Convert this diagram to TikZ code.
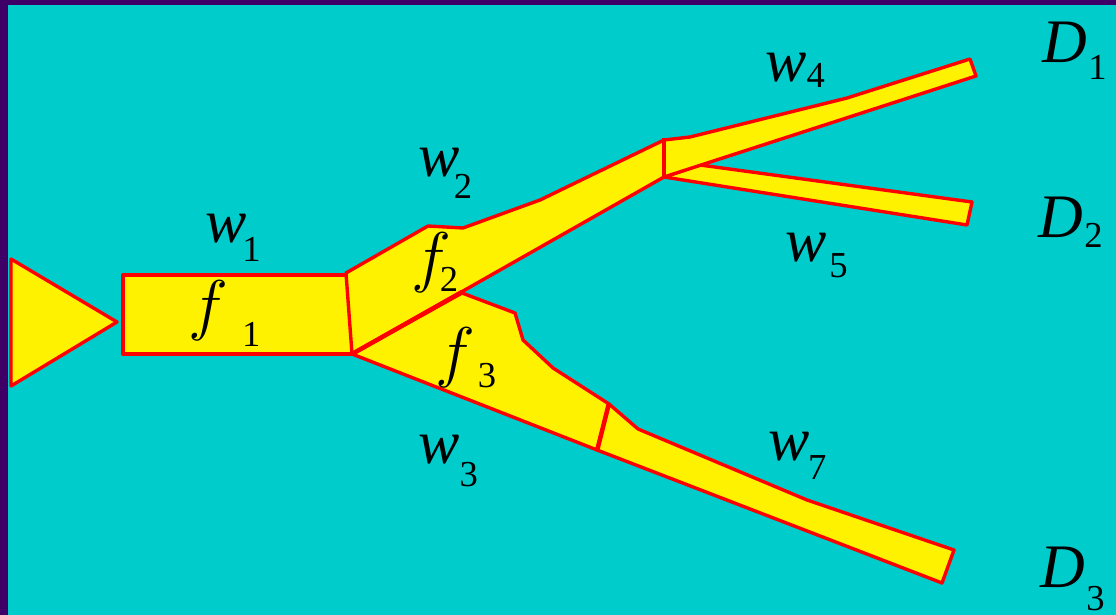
\RequirePackage{fix-cm}
\documentclass[tikz,border=0pt]{standalone}
\usepackage{fontspec}
\setmainfont{Liberation Serif}
\usepackage{xcolor}
\definecolor{bgcyan}{RGB}{0,204,204}
\definecolor{rimpurple}{RGB}{62,0,102}
% letter, index, gap, drop
\newcommand{\lbl}[4]{#1\kern#3\raisebox{-#4}{\fontsize{26}{28}\selectfont #2}}
\newcommand{\flow}{{\fontsize{48}{54}\selectfont$f$}}

\begin{document}
\begin{tikzpicture}[x=0.025cm, y=-0.025cm,
    every node/.style={inner sep=0pt, anchor=base west, font=\fontsize{44}{50}\selectfont},
    strip/.style={fill=yellow, draw=red, line width=2.4pt, line join=round},
    joint/.style={draw=red, line width=3.2pt}]
    % Background with dark rim on the left and top
    \fill[rimpurple] (0,0) rectangle (1116,615);
    \fill[bgcyan] (8,5) rectangle (1116,615);
    \useasboundingbox (0,0) rectangle (1116,615);
    % Source and first pipe
    \draw[strip] (11,259) -- (117,322) -- (11,386) -- cycle;
    \draw[strip] (123,275) rectangle (352,354);
    % Upper branch f2, w2
    \draw[strip] (346,273) -- (428,226) -- (463,228) -- (540,200) -- (664,140) -- (664,177) -- (352,354) -- cycle;
    % Lower branch f3 and w7
    \draw[strip] (352,354) -- (462,293) -- (515,313) -- (523,340) -- (553,368) -- (609,404) -- (597,450) -- cycle;
    \draw[strip] (609,404) -- (638,429) -- (807,500) -- (954,550) -- (942,583) -- (597,450) -- cycle;
    % Outlets w5 and w4
    \draw[strip] (700,165) -- (972,202) -- (967,225) -- (664,177) -- cycle;
    \draw[strip] (664,140) -- (690,137) -- (847,98) -- (970,59) -- (976,76) -- (664,177) -- cycle;
    % Joints
    \draw[joint] (664,138) -- (664,178);
    \draw[joint] (609,403) -- (597,451);
    \draw[joint] (352,354) -- (462,292);
    % Labels
    \node (w1) at (205,243) {\lbl{\textit{w}}{1}{-3pt}{13.5pt}};
    \node (w2) at (418,177) {\lbl{\textit{w}}{2}{-4pt}{15pt}};
    \node (w3) at (418,463) {\lbl{\textit{w}}{3}{0pt}{17pt}};
    \node (w4) at (765,82) {\lbl{\textit{w}}{4}{0pt}{4pt}};
    \node (w5) at (785,262) {\lbl{\textit{w}}{5}{2pt}{11pt}};
    \node (w7) at (768,460) {\lbl{\textit{w}}{7}{-1pt}{14pt}};
    \node (f1) at (188,328) {\lbl{\flow}{1}{10pt}{13.5pt}};
    \node (f2) at (411,280) {\lbl{\flow}{2}{-8pt}{8.5pt}};
    \node (f3) at (435,375) {\lbl{\flow}{3}{2pt}{9pt}};
    \node (D1) at (1042,63) {\lbl{\textit{D}}{1}{1pt}{12pt}};
    \node (D2) at (1038,238) {\lbl{\textit{D}}{2}{1pt}{7pt}};
    \node (D3) at (1040,587) {\lbl{\textit{D}}{3}{1pt}{17pt}};
\end{tikzpicture}
\end{document}
